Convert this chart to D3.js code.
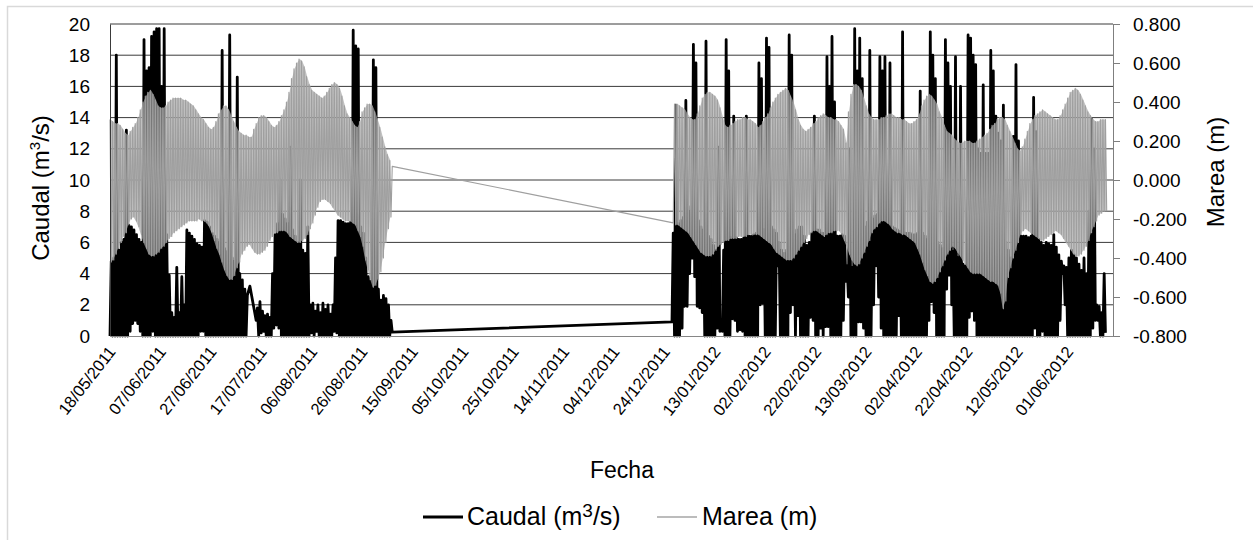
<!DOCTYPE html>
<html>
<head>
<meta charset="utf-8">
<script src="https://cdn.jsdelivr.net/npm/d3@7"></script>
<style>
  body { margin: 0; background: #fff; }
  svg { display: block; }
  text { font-family: "Liberation Sans", Arial, sans-serif; fill: #000; }
</style>
</head>
<body>
<svg id="chart" width="1253" height="540"></svg>
<script>
// ---- Eje de fechas ----
const fechaInicioEje = "2011-05-18";
const fechaFinEje = "2012-06-19";
const fechasEje = ["18/05/2011","07/06/2011","27/06/2011","17/07/2011","06/08/2011","26/08/2011",
  "15/09/2011","05/10/2011","25/10/2011","14/11/2011","04/12/2011","24/12/2011","13/01/2012",
  "02/02/2012","22/02/2012","13/03/2012","02/04/2012","22/04/2012","12/05/2012","01/06/2012"];
const caudalTicks = [0, 2, 4, 6, 8, 10, 12, 14, 16, 18, 20];
const mareaTicks = [-0.8, -0.6, -0.4, -0.2, 0, 0.2, 0.4, 0.6, 0.8];

// ---- Caudal (m3/s): minimo y maximo diario ----
const caudalInicio1 = "2011-05-18";
const caudalMax1 = [
  4.8, 5.0, 18.0, 5.5, 6.0, 6.2, 13.2, 7.1, 7.0, 6.8,
  6.5, 6.2, 6.0, 19.0, 17.0, 17.2, 19.2, 19.5, 19.7, 19.7,
  16.0, 19.7, 6.5, 3.9, 1.5, 1.2, 4.4, 1.5, 3.8, 2.0,
  6.8, 6.6, 6.4, 6.2, 5.9, 5.8, 5.7, 7.4, 7.3, 7.0,
  6.6, 6.4, 6.2, 6.0, 18.3, 5.6, 5.4, 19.3, 5.0, 4.8,
  16.6, 4.0, 3.6, 3.0, 2.6, 3.2, null, null, 1.8, 2.2,
  1.6, 1.3, 1.4, 1.2, 4.0, 6.5, 7.2, 10.0, 7.8, 7.5,
  7.2, 12.1, 6.8, 6.4, 6.0, 10.0, 5.5, 5.3, 7.0, 2.0,
  2.1, 1.6, 2.0, 1.5, 2.1, 1.7, 2.0, 1.4, 2.0, 5.0,
  7.4, 7.4, 7.3, 7.2, 7.2, 7.3, 19.6, 18.6, 18.4, 7.0,
  6.6, 5.0, 3.8, 3.5, 17.7, 17.2, 3.0, 2.3, 2.6, 2.4,
  2.0, 1.0, null
];
const caudalMin1 = [
  0, 0, 0, 0, 0, 0, 0, 0, 0.3, 0.8,
  1.0, 0.8, 0.3, 0, 0, 0, 0, 0.3, 0, 0,
  0, 0, 0, 0, 0, 0, 0, 0, 0, 0,
  0, 0, 0, 0, 0, 0, 0.3, 0.3, 0, 0,
  0, 0, 0, 0, 0, 0, 0, 0, 0, 0,
  0, 0, 0, 0, 0, null, null, null, 1.0, 0,
  0.2, 0.3, 0, 0, 0, 0.5, 0.7, 0.5, 0, 0,
  0, 0, 0, 0, 0, 0, 0, 0, 0, 0,
  0.2, 0, 0.3, 0, 0, 0, 0, 0, 0, 0.3,
  0.2, 0, 0, 0, 0, 0, 0, 0, 0, 0,
  0, 0, 0, 0, 0, 0, 0, 0, 0, 0,
  0, 0, 0.25
];
const caudalInicio2 = "2011-12-27";
const caudalMax2 = [
  6.6, 14.8, 7.2, 7.4, 7.6, 15.1, 8.0, 8.3, 18.7, 17.5,
  7.4, 7.0, 6.8, 18.9, 6.4, 6.2, 5.8, 5.5, 12.1, 1.0,
  5.5, 19.0, 17.0, 6.3, 14.1, 6.3, 6.2, 6.2, 6.3, 14.1,
  6.4, 6.4, 6.5, 6.6, 17.5, 16.5, 6.8, 19.1, 18.5, 7.0,
  6.8, 6.6, 6.0, 5.5, 5.3, 5.5, 19.3, 18.0, 6.5, 6.8,
  7.0, 7.0, 6.4, 5.8, 6.0, 6.6, 14.1, 6.8, 6.8, 6.6,
  6.6, 17.9, 16.0, 19.2, 15.0, 6.4, 6.4, 6.5, 6.4, 4.5,
  12.0, 4.4, 19.7, 17.0, 19.1, 16.5, 7.0, 7.3, 18.3, 7.5,
  7.7, 7.8, 17.9, 17.0, 17.9, 7.2, 17.5, 7.0, 6.9, 6.8,
  6.7, 19.5, 6.6, 6.6, 6.6, 6.5, 6.5, 6.6, 15.7, 6.6,
  6.4, 6.2, 19.5, 18.0, 16.5, 6.0, 5.8, 5.6, 19.0, 17.5,
  16.0, 5.4, 17.9, 5.0, 16.0, 4.6, 4.5, 19.3, 19.1, 18.0,
  17.4, 12.0, 11.7, 16.1, 11.7, 11.7, 18.3, 17.0, 14.1, 13.0,
  12.5, 14.8, 6.0, 5.5, 5.0, 12.8, 17.4, 12.5, 6.4, 6.4,
  6.4, 6.3, 6.4, 15.3, 13.1, 6.2, 6.0, 5.8, 6.0, 5.9,
  5.8, 6.5, 5.7, 5.2, 4.8, 4.5, 4.4, 5.0, 5.5, 5.2,
  5.0, 4.6, 4.2, 5.0, 4.0, 8.0, 13.9, 12.0, 2.0, 1.9,
  1.5, 4.0, null
];
const caudalMin2 = [
  0.9, 0, 0, 0, 0.5, 1.9, 1.9, 4.0, 5.0, 3.8,
  1.9, 1.8, 1.5, 0, 0, 0, 0, 0, 0.5, 0.3,
  0.3, 0, 0, 0, 1.1, 1.0, 0.3, 0.4, 0.3, 0,
  0, 0, 0, 0, 0, 2.0, 2.1, 0, 0, 0,
  0, 0, 4.5, 0, 0, 0, 0, 1.5, 2.0, 0,
  1.3, 0, 0, 0, 0, 1.2, 1.0, 0, 0, 0.5,
  0, 0.6, 0.6, 0, 0, 0, 0, 0, 1.0, 3.5,
  2.5, 0, 0, 0, 0.9, 0.9, 0.5, 0, 0, 0,
  2.0, 4.5, 2.5, 0.5, 0, 0, 0, 0, 0, 0,
  1.3, 0, 0, 0, 0, 0, 0, 0, 0, 0,
  0, 0, 1.0, 2.2, 1.5, 0, 0, 0, 0, 3.0,
  3.9, 2.0, 0, 0, 0, 0, 0, 0, 1.2, 1.6,
  1.0, 0, 0, 0, 0, 0, 0, 0, 0, 0,
  0, 0, 0, 0, 0, 0, 0, 0, 0, 0,
  0, 0, 0, 0, 0.5, 0, 0, 0.3, 0, 0,
  0, 0, 0, 0, 1.0, 4.0, 2.0, 0, 0, 0,
  0, 0, 0, 0, 0, 0, 0, 0.5, 1.0, 1.0,
  0, 0, 0.2
];

// ---- Marea (m): pleamar y bajamar diarias ----
const mareaInicio1 = "2011-05-18";
const mareaAlta1 = [
  0.31, 0.30, 0.29, 0.29, 0.28, 0.26, 0.24, 0.23, 0.25, 0.27,
  0.29, 0.32, 0.36, 0.40, 0.43, 0.45, 0.46, 0.44, 0.41, 0.38,
  0.37, 0.37, 0.38, 0.40, 0.41, 0.42, 0.42, 0.42, 0.42, 0.41,
  0.41, 0.40, 0.39, 0.38, 0.36, 0.34, 0.32, 0.31, 0.29, 0.27,
  0.26, 0.27, 0.30, 0.34, 0.36, 0.38, 0.38, 0.36, 0.33, 0.30,
  0.27, 0.25, 0.24, 0.23, 0.23, 0.22, 0.22, 0.26, 0.29, 0.32,
  0.33, 0.33, 0.32, 0.30, 0.28, 0.27, 0.28, 0.30, 0.33, 0.36,
  0.40, 0.45, 0.52, 0.57, 0.60, 0.62, 0.61, 0.58, 0.53, 0.49,
  0.46, 0.45, 0.44, 0.43, 0.42, 0.43, 0.45, 0.47, 0.49, 0.50,
  0.49, 0.47, 0.43, 0.38, 0.34, 0.32, 0.30, 0.28, 0.27, 0.30,
  0.35, 0.37, 0.39, 0.39, 0.38, 0.35, 0.31, 0.27, 0.22, 0.17,
  0.13, 0.10, 0.07
];
const mareaBaja1 = [
  -0.42, -0.41, -0.38, -0.35, -0.32, -0.29, -0.27, -0.23, -0.20, -0.19,
  -0.21, -0.24, -0.28, -0.32, -0.35, -0.38, -0.39, -0.39, -0.38, -0.37,
  -0.35, -0.34, -0.32, -0.30, -0.29, -0.27, -0.26, -0.25, -0.24, -0.23,
  -0.22, -0.21, -0.21, -0.21, -0.21, -0.20, -0.21, -0.21, -0.22, -0.24,
  -0.27, -0.31, -0.35, -0.38, -0.42, -0.46, -0.49, -0.51, -0.51, -0.49,
  -0.45, -0.42, -0.38, -0.36, -0.34, -0.33, -0.35, -0.37, -0.38, -0.38,
  -0.37, -0.36, -0.34, -0.31, -0.29, -0.27, -0.27, -0.26, -0.26, -0.26,
  -0.27, -0.29, -0.30, -0.31, -0.32, -0.32, -0.31, -0.30, -0.28, -0.25,
  -0.22, -0.18, -0.14, -0.11, -0.10, -0.10, -0.11, -0.12, -0.14, -0.16,
  -0.18, -0.19, -0.20, -0.21, -0.21, -0.21, -0.22, -0.23, -0.26, -0.29,
  -0.34, -0.41, -0.46, -0.51, -0.55, -0.54, -0.51, -0.47, -0.40, -0.32,
  -0.25, -0.19, null
];
const mareaInicio2 = "2011-12-27";
const mareaAlta2 = [
  null, 0.39, 0.39, 0.38, 0.37, 0.36, 0.34, 0.32, 0.31, 0.31,
  0.34, 0.38, 0.42, 0.44, 0.45, 0.45, 0.44, 0.43, 0.41, 0.37,
  0.32, 0.28, 0.27, 0.28, 0.29, 0.30, 0.31, 0.31, 0.32, 0.32,
  0.31, 0.31, 0.30, 0.29, 0.27, 0.28, 0.30, 0.32, 0.34, 0.37,
  0.40, 0.42, 0.44, 0.45, 0.46, 0.47, 0.46, 0.43, 0.40, 0.36,
  0.31, 0.28, 0.26, 0.25, 0.26, 0.27, 0.29, 0.30, 0.32, 0.33,
  0.34, 0.33, 0.32, 0.32, 0.31, 0.31, 0.30, 0.28, 0.26, 0.19,
  0.35, 0.44, 0.49, 0.49, 0.48, 0.46, 0.42, 0.38, 0.34, 0.32,
  0.31, 0.31, 0.31, 0.32, 0.32, 0.33, 0.34, 0.34, 0.33, 0.32,
  0.32, 0.31, 0.31, 0.30, 0.29, 0.29, 0.30, 0.31, 0.34, 0.38,
  0.41, 0.43, 0.44, 0.43, 0.41, 0.39, 0.35, 0.32, 0.28, 0.25,
  0.24, 0.23, 0.21, 0.20, 0.19, 0.19, 0.20, 0.20, 0.20, 0.19,
  0.19, 0.20, 0.21, 0.22, 0.23, 0.24, 0.26, 0.28, 0.29, 0.31,
  0.32, 0.32, 0.31, 0.28, 0.25, 0.22, 0.19, 0.16, 0.15, 0.17,
  0.21, 0.25, 0.29, 0.31, 0.33, 0.34, 0.35, 0.36, 0.35, 0.34,
  0.33, 0.32, 0.31, 0.31, 0.33, 0.36, 0.39, 0.42, 0.45, 0.46,
  0.47, 0.46, 0.44, 0.41, 0.38, 0.35, 0.33, 0.31, 0.30, 0.30,
  0.31, 0.31, 0.31
];
const mareaBaja2 = [
  -0.22, -0.23, -0.23, -0.24, -0.25, -0.26, -0.27, -0.29, -0.31, -0.33,
  -0.35, -0.37, -0.38, -0.39, -0.39, -0.39, -0.38, -0.36, -0.34, -0.33,
  -0.32, -0.31, -0.31, -0.30, -0.30, -0.30, -0.29, -0.29, -0.29, -0.29,
  -0.28, -0.28, -0.28, -0.28, -0.28, -0.29, -0.30, -0.31, -0.32, -0.33,
  -0.35, -0.37, -0.38, -0.39, -0.40, -0.41, -0.41, -0.41, -0.40, -0.38,
  -0.36, -0.34, -0.32, -0.30, -0.28, -0.27, -0.26, -0.26, -0.27, -0.28,
  -0.29, -0.28, -0.27, -0.27, -0.26, -0.26, -0.26, -0.28, -0.31, -0.34,
  -0.38, -0.41, -0.43, -0.44, -0.43, -0.40, -0.37, -0.34, -0.31, -0.27,
  -0.25, -0.24, -0.22, -0.21, -0.21, -0.22, -0.23, -0.25, -0.26, -0.27,
  -0.27, -0.28, -0.28, -0.29, -0.30, -0.31, -0.32, -0.35, -0.38, -0.42,
  -0.46, -0.49, -0.52, -0.53, -0.52, -0.50, -0.47, -0.44, -0.41, -0.38,
  -0.36, -0.34, -0.35, -0.37, -0.39, -0.41, -0.43, -0.45, -0.47, -0.48,
  -0.48, -0.48, -0.48, -0.49, -0.50, -0.51, -0.52, -0.52, -0.53, -0.54,
  -0.58, -0.66, -0.62, -0.50, -0.45, -0.40, -0.36, -0.32, -0.28, -0.26,
  -0.25, -0.26, -0.27, -0.28, -0.29, -0.30, -0.31, -0.31, -0.30, -0.29,
  -0.28, -0.27, -0.26, -0.27, -0.28, -0.30, -0.32, -0.34, -0.36, -0.38,
  -0.39, -0.39, -0.38, -0.36, -0.34, -0.31, -0.27, -0.24, -0.21, -0.18,
  -0.17, -0.16, -0.16
];

// ---- Construccion de las series ----
const DIA = 864e5;
const parseISO = d3.utcParse("%Y-%m-%d");
const parseEje = d3.utcParse("%d/%m/%Y");

// Cada dia aporta dos lecturas: la primera al inicio del dia y la segunda a mediodia.
function lecturas(inicio, primera, segunda) {
  const t0 = +parseISO(inicio);
  const out = [];
  primera.forEach((v, i) => {
    const t = t0 + i * DIA;
    if (v != null) out.push([t, v]);
    if (segunda[i] != null) out.push([t + DIA / 2, segunda[i]]);
  });
  return out;
}

// Franja entre pleamar y bajamar de cada dia (solo dias con ambas lecturas).
function franja(inicio, alta, baja) {
  const t0 = +parseISO(inicio);
  return alta.map((a, i) => ({ t: t0 + i * DIA + DIA / 4, alta: a, baja: baja[i] }))
    .filter(d => d.alta != null && d.baja != null);
}

const serieCaudal = lecturas(caudalInicio1, caudalMin1, caudalMax1)
  .concat(lecturas(caudalInicio2, caudalMin2, caudalMax2));
const serieMarea = lecturas(mareaInicio1, mareaAlta1, mareaBaja1)
  .concat(lecturas(mareaInicio2, mareaAlta2, mareaBaja2));
const franjasMarea = [franja(mareaInicio1, mareaAlta1, mareaBaja1), franja(mareaInicio2, mareaAlta2, mareaBaja2)];

// ---- Dibujo ----
const svg = d3.select("#chart");
const M = { left: 110, right: 1113, top: 24, bottom: 336 };

const x = d3.scaleUtc()
  .domain([parseISO(fechaInicioEje), parseISO(fechaFinEje)])
  .range([M.left, M.right]);
const yC = d3.scaleLinear().domain([0, 20]).range([M.bottom, M.top]);
const yM = d3.scaleLinear().domain([-0.8, 0.8]).range([M.bottom, M.top]);

svg.append("rect").attr("width", 1253).attr("height", 540).attr("fill", "#fff");
// marco exterior del grafico
svg.append("rect")
  .attr("x", 7.5).attr("y", 6.5).attr("width", 1260).attr("height", 560)
  .attr("fill", "none").attr("stroke", "#d9d9d9").attr("stroke-width", 1.5);

// lineas de division horizontales (eje primario)
svg.append("g").selectAll("line").data(caudalTicks.filter(v => v > 0)).join("line")
  .attr("x1", M.left).attr("x2", M.right)
  .attr("y1", d => yC(d)).attr("y2", d => yC(d))
  .attr("stroke", "#3a3a3a").attr("stroke-width", 1);

// serie Caudal
svg.append("path").datum(serieCaudal)
  .attr("fill", "none").attr("stroke", "#000").attr("stroke-width", 2.8)
  .attr("stroke-linejoin", "round")
  .attr("d", d3.line().x(d => x(d[0])).y(d => yC(d[1])));

// serie Marea: franja de oscilacion y trazo
const areaMarea = d3.area().x(d => x(d.t)).y0(d => yM(d.baja)).y1(d => yM(d.alta));
svg.append("g").selectAll("path").data(franjasMarea).join("path")
  .attr("fill", "#a6a6a6").attr("fill-opacity", 0.7)
  .attr("d", areaMarea);
svg.append("path").datum(serieMarea)
  .attr("fill", "none").attr("stroke", "#9f9f9f").attr("stroke-width", 1.1)
  .attr("stroke-linejoin", "round")
  .attr("d", d3.line().x(d => x(d[0])).y(d => yM(d[1])));

// eje vertical izquierdo (Caudal)
const ejeIzq = svg.append("g").attr("transform", `translate(${M.left},0)`)
  .call(d3.axisLeft(yC).tickValues(caudalTicks).tickSize(0).tickPadding(20).tickFormat(d3.format("d")));
ejeIzq.select(".domain").attr("stroke", "#3a3a3a");
ejeIzq.selectAll("text").attr("font-size", 19).attr("font-family", "Liberation Sans, Arial, sans-serif");

// eje vertical derecho (Marea)
const ejeDer = svg.append("g").attr("transform", `translate(${M.right},0)`)
  .call(d3.axisRight(yM).tickValues(mareaTicks).tickSize(7).tickPadding(13).tickFormat(d3.format(".3f")));
ejeDer.select(".domain").attr("stroke", "#7f7f7f");
ejeDer.selectAll(".tick line").attr("stroke", "#7f7f7f");
ejeDer.selectAll("text").attr("font-size", 19).attr("font-family", "Liberation Sans, Arial, sans-serif")
  .text(d => d3.format(".3f")(d).replace("−", "-"));

// eje de fechas
const fechasTicks = fechasEje.map(parseEje);
const ejeX = svg.append("g").attr("transform", `translate(0,${M.bottom})`)
  .call(d3.axisBottom(x).tickValues(fechasTicks).tickSize(0).tickFormat((d, i) => fechasEje[i]));
ejeX.select(".domain").attr("stroke", "#868686").attr("stroke-width", 1.2);
ejeX.selectAll("text")
  .attr("font-size", 16.5).attr("font-family", "Liberation Sans, Arial, sans-serif")
  .attr("text-anchor", "end").attr("dy", null).attr("y", 0)
  .attr("transform", "translate(6,16) rotate(-52)");

// titulos de ejes
svg.append("text").attr("transform", "translate(49,188) rotate(-90)")
  .attr("text-anchor", "middle").attr("font-size", 24)
  .call(t => {
    t.append("tspan").text("Caudal (m");
    t.append("tspan").attr("font-size", 15).attr("dy", -9).text("3");
    t.append("tspan").attr("dy", 9).text("/s)");
  });
svg.append("text").attr("transform", "translate(1224,172) rotate(-90)")
  .attr("text-anchor", "middle").attr("font-size", 24).text("Marea (m)");
svg.append("text").attr("x", 622).attr("y", 478)
  .attr("text-anchor", "middle").attr("font-size", 23).text("Fecha");

// leyenda
const ley = svg.append("g");
ley.append("line").attr("x1", 423).attr("x2", 463).attr("y1", 517).attr("y2", 517)
  .attr("stroke", "#000").attr("stroke-width", 3);
ley.append("text").attr("x", 467).attr("y", 525).attr("font-size", 25)
  .call(t => {
    t.append("tspan").text("Caudal (m");
    t.append("tspan").attr("font-size", 19).attr("dy", -8).text("3");
    t.append("tspan").attr("dy", 8).text("/s)");
  });
ley.append("line").attr("x1", 657).attr("x2", 697).attr("y1", 517).attr("y2", 517)
  .attr("stroke", "#a6a6a6").attr("stroke-width", 1.5);
ley.append("text").attr("x", 702).attr("y", 525).attr("font-size", 25).text("Marea (m)");
</script>
</body>
</html>
